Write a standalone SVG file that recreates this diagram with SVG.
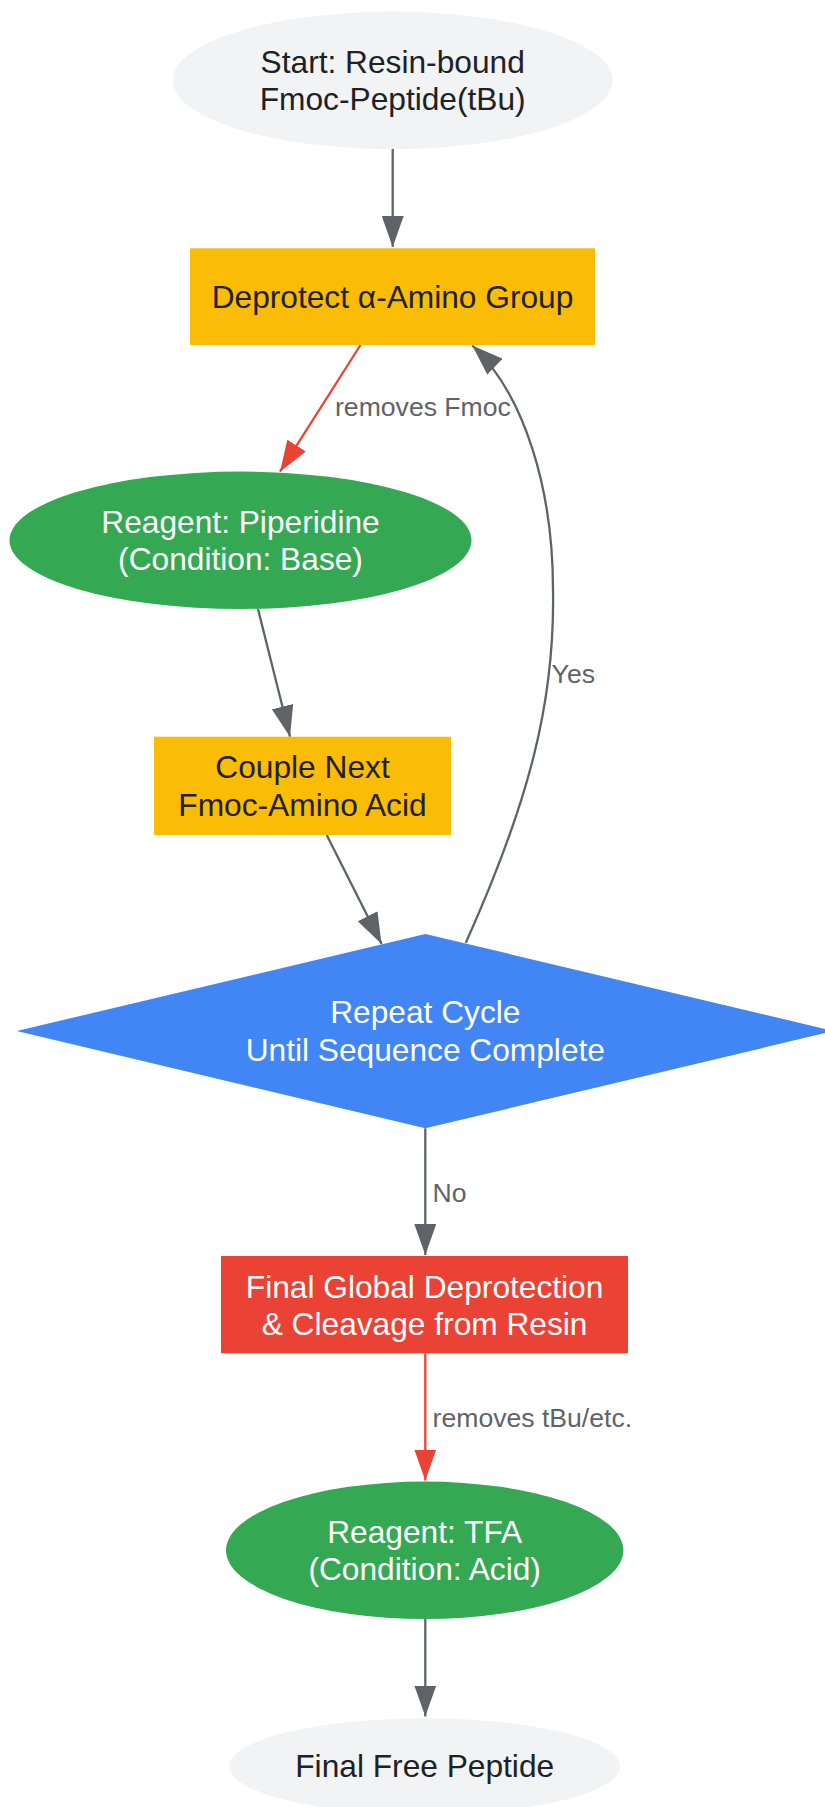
<svg xmlns="http://www.w3.org/2000/svg" width="825" height="1807" viewBox="0 0 825 1807">
<style>
text{font-family:"Liberation Sans",Arial,Helvetica,sans-serif;}
.n{font-size:31.7px;text-anchor:middle;}
.dk{fill:#202124;}
.wt{fill:#ffffff;}
.lbl{font-size:26.6px;fill:#5f6368;}
.eg{fill:none;stroke:#5f6368;stroke-width:2.3;}
.er{fill:none;stroke:#ea4335;stroke-width:2.3;}
</style>
<defs>
<marker id="ag" markerUnits="userSpaceOnUse" markerWidth="32" markerHeight="22" refX="31" refY="11" orient="auto"><path d="M0,0 L31,11 L0,22 z" fill="#5f6368"/></marker>
<marker id="ar" markerUnits="userSpaceOnUse" markerWidth="32" markerHeight="22" refX="31" refY="11" orient="auto"><path d="M0,0 L31,11 L0,22 z" fill="#ea4335"/></marker>
</defs>
<rect width="825" height="1807" fill="#ffffff"/>
<g id="connectors">
<path class="eg" d="M392.7,149 L392.7,247" marker-end="url(#ag)"/>
<path class="er" d="M360.5,345 L280,471.7" marker-end="url(#ar)"/>
<path class="eg" d="M258,609 L290,736.7" marker-end="url(#ag)"/>
<path class="eg" d="M326.7,835 L381.6,944" marker-end="url(#ag)"/>
<path class="eg" d="M465.8,942.7 C530,800 555,700 553,590 C553,490 525,395 472.3,345.5" marker-end="url(#ag)"/>
<path class="eg" d="M425.3,1128.3 L425.3,1255" marker-end="url(#ag)"/>
<path class="er" d="M425.3,1353.3 L425.3,1480.5" marker-end="url(#ar)"/>
<path class="eg" d="M425.3,1619 L425.3,1716.5" marker-end="url(#ag)"/>
<text class="lbl" x="335" y="416">removes Fmoc</text>
<text class="lbl" x="551.6" y="683">Yes</text>
<text class="lbl" x="432.6" y="1201.7">No</text>
<text class="lbl" x="432.6" y="1426.7">removes tBu/etc.</text>
</g>
<g id="start">
<ellipse cx="392.7" cy="80.3" rx="220" ry="68.7" fill="#f1f3f4"/>
<text class="n dk" x="392.7" y="72.7">Start: Resin-bound</text>
<text class="n dk" x="392.7" y="110">Fmoc-Peptide(tBu)</text>
</g>
<g id="deprotect">
<rect x="190" y="248.3" width="405" height="96.7" fill="#fbbc05"/>
<text class="n dk" x="392.5" y="308.3">Deprotect α-Amino Group</text>
</g>
<g id="piperidine">
<ellipse cx="240.5" cy="540.3" rx="231" ry="68.7" fill="#34a853"/>
<text class="n wt" x="240.5" y="532.6">Reagent: Piperidine</text>
<text class="n wt" x="240.5" y="570">(Condition: Base)</text>
</g>
<g id="couple">
<rect x="154" y="736.7" width="297" height="98.3" fill="#fbbc05"/>
<text class="n dk" x="302.5" y="778.3">Couple Next</text>
<text class="n dk" x="302.5" y="815.8">Fmoc-Amino Acid</text>
</g>
<g id="repeat">
<polygon points="425.3,934 833.8,1031 425.3,1128.3 16.8,1031" fill="#4285f4"/>
<text class="n wt" x="425.3" y="1023.3">Repeat Cycle</text>
<text class="n wt" x="425.3" y="1061">Until Sequence Complete</text>
</g>
<g id="cleavage">
<rect x="221" y="1256" width="407" height="97.3" fill="#ea4335"/>
<text class="n wt" x="424.6" y="1297.5">Final Global Deprotection</text>
<text class="n wt" x="424.6" y="1335">&amp; Cleavage from Resin</text>
</g>
<g id="tfa">
<ellipse cx="424.7" cy="1550.3" rx="198.7" ry="68.7" fill="#34a853"/>
<text class="n wt" x="424.7" y="1542.7">Reagent: TFA</text>
<text class="n wt" x="424.7" y="1580">(Condition: Acid)</text>
</g>
<g id="final">
<ellipse cx="424.7" cy="1766.3" rx="195.3" ry="48" fill="#f1f3f4"/>
<text class="n dk" x="424.7" y="1777.3">Final Free Peptide</text>
</g>
</svg>
